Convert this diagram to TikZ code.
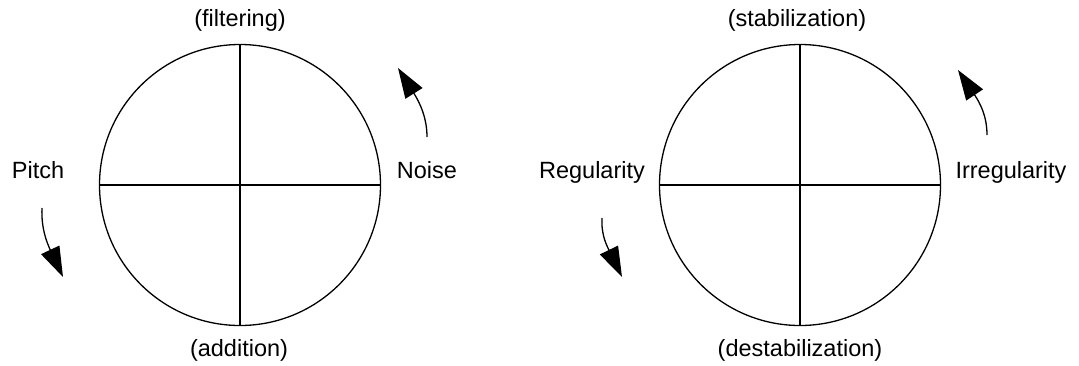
\documentclass[tikz,border=0pt]{standalone}
\usepackage{fontspec}
\setmainfont{Liberation Sans}
\usetikzlibrary{arrows.meta}
\begin{document}
\begin{tikzpicture}[x=1pt,y=-1pt,
  wheel/.style={circle,draw,line width=1.3pt,minimum size=281pt,inner sep=0pt},
  axis/.style={line width=1.3pt},
  lbl/.style={font=\fontsize{23.5}{28}\selectfont,anchor=base,inner sep=0pt},
  turn/.style={line width=1.3pt,-{Triangle[length=30pt,width=20pt]}}]
\useasboundingbox (0,0) rectangle (1079,365);
% left wheel
\node[wheel] (L) at (240,185) {};
\draw[axis] (L.west) -- (L.east);
\draw[axis] (L.north) -- (L.south);
\node[lbl] (lt) at (240,26) {(filtering)};
\node[lbl] (lb) at (239,356) {(addition)};
\node[lbl] (ll) at (38,178) {Pitch};
\node[lbl] (lr) at (427,178) {Noise};
\coordinate (na) at (427,137);
\coordinate (nb) at (398,68);
\draw[turn] (na) .. controls (427,118) and (420,103) .. (nb);
\coordinate (pa) at (42,208);
\coordinate (pb) at (63,277);
\draw[turn] (pa) .. controls (41,228) and (47,243) .. (pb);
% right wheel
\node[wheel] (R) at (800,185) {};
\draw[axis] (R.west) -- (R.east);
\draw[axis] (R.north) -- (R.south);
\node[lbl] (rt) at (797,26) {(stabilization)};
\node[lbl] (rb) at (800,356) {(destabilization)};
\node[lbl] (rl) at (592,178) {Regularity};
\node[lbl] (rr) at (1011,178) {Irregularity};
\coordinate (ia) at (987,135);
\coordinate (ib) at (958,70);
\draw[turn] (ia) .. controls (987,116) and (980,103) .. (ib);
\coordinate (ga) at (602,218);
\coordinate (gb) at (622,277);
\draw[turn] (ga) .. controls (601,235) and (607,246) .. (gb);
\end{tikzpicture}
\end{document}
